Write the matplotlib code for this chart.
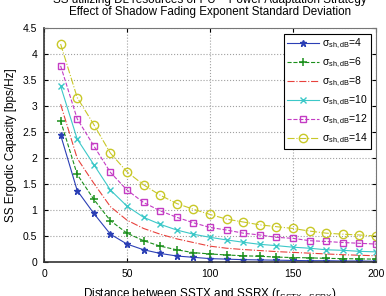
import matplotlib
matplotlib.use('Agg')
import matplotlib.pyplot as plt

plt.rcParams['font.family'] = ['Liberation Sans', 'DejaVu Sans']
plt.rcParams['mathtext.fontset'] = 'custom'
plt.rcParams['mathtext.rm'] = 'Liberation Sans'
plt.rcParams['mathtext.it'] = 'Liberation Sans'

distance = [10, 20, 30, 40, 50, 60, 70, 80, 90, 100,
            110, 120, 130, 140, 150, 160, 170, 180, 190, 200]

cap_s4 = [2.45, 1.38, 0.94, 0.54, 0.35, 0.24, 0.17, 0.12, 0.095, 0.07,
          0.06, 0.05, 0.045, 0.04, 0.035, 0.03, 0.03, 0.025, 0.025, 0.02]
cap_s6 = [2.72, 1.69, 1.21, 0.80, 0.56, 0.415, 0.31, 0.24, 0.185, 0.16,
          0.14, 0.125, 0.115, 0.10, 0.09, 0.085, 0.075, 0.07, 0.065, 0.06]
cap_s8 = [3.04, 2.00, 1.52, 1.07, 0.81, 0.65, 0.54, 0.45, 0.38, 0.31,
          0.27, 0.245, 0.225, 0.205, 0.19, 0.175, 0.16, 0.145, 0.135, 0.125]
cap_s10 = [3.39, 2.37, 1.88, 1.39, 1.08, 0.865, 0.73, 0.62, 0.54, 0.48,
           0.43, 0.385, 0.345, 0.32, 0.29, 0.27, 0.24, 0.23, 0.21, 0.20]
cap_s12 = [3.78, 2.76, 2.24, 1.73, 1.39, 1.15, 0.99, 0.865, 0.76, 0.67,
           0.62, 0.56, 0.525, 0.48, 0.46, 0.415, 0.40, 0.38, 0.365, 0.35]
cap_s14 = [4.20, 3.17, 2.65, 2.10, 1.74, 1.49, 1.29, 1.13, 1.02, 0.92,
           0.83, 0.775, 0.72, 0.685, 0.65, 0.60, 0.56, 0.54, 0.525, 0.505]

sigmas = [4, 6, 8, 10, 12, 14]

fig = plt.figure(figsize=(3.86, 2.96), dpi=100)
ax = fig.add_axes([0.114, 0.114, 0.86, 0.79])

ax.plot(distance, cap_s4, '-', color='#2b3fb5', marker='*', ms=5, lw=0.8)
ax.plot(distance, cap_s6, '--', color='#1b8f1b', marker='+', ms=6, mew=1.1, lw=0.8)
ax.plot(distance, cap_s8, '-.', color='#e8413c', lw=0.8)
ax.plot(distance, cap_s10, '-', color='#3cc8c8', marker='x', ms=4, lw=0.8)
ax.plot(distance, cap_s12, '--', color='#c43cc4', marker='s', ms=5, mfc='none', lw=0.8)
ax.plot(distance, cap_s14, '-.', color='#c8c828', marker='o', ms=6, mfc='none', lw=0.8)

labels = [r'$\sigma_{\mathrm{sh,dB}}$=%d' % s for s in sigmas]
leg = ax.legend(labels, loc='upper right', fontsize=7.5, fancybox=False,
                edgecolor='black', framealpha=1, handlelength=3.0,
                borderpad=0.3, labelspacing=0.45, handletextpad=0.3,
                borderaxespad=0.5)
leg.get_frame().set_linewidth(0.8)

ax.set_xlim(0, 200)
ax.set_ylim(0, 4.5)
ax.set_xticks([0, 50, 100, 150, 200])
ax.set_yticks([0, 0.5, 1, 1.5, 2, 2.5, 3, 3.5, 4, 4.5])
ax.set_yticklabels(['0', '0.5', '1', '1.5', '2', '2.5', '3', '3.5', '4', '4.5'])
ax.tick_params(direction='in', top=True, right=True, labelsize=7.5, length=3, pad=5)
ax.grid(True, linestyle=':', color='#a0a0a0', lw=0.8)
for side in ['left', 'bottom']:
    ax.spines[side].set_linewidth(1.2)
    ax.spines[side].set_color('#333333')
for side in ['top', 'right']:
    ax.spines[side].set_color('#777777')

ax.set_xlabel(r'Distance between SSTX and SSRX (r$_{\mathrm{SSTX-SSRX}}$)', fontsize=8.5, labelpad=5)
ax.set_ylabel('SS Ergodic Capacity [bps/Hz]', fontsize=8.5, labelpad=4)

fig.text(0.545, 1.0, 'SS utilizing DL resources of PU \u2013 Power Adaptation Strategy',
         ha='center', va='center', fontsize=8.4)
fig.text(0.545, 0.958, 'Effect of Shadow Fading Exponent Standard Deviation',
         ha='center', va='center', fontsize=8.4)

fig.savefig('out.png', dpi=100)
